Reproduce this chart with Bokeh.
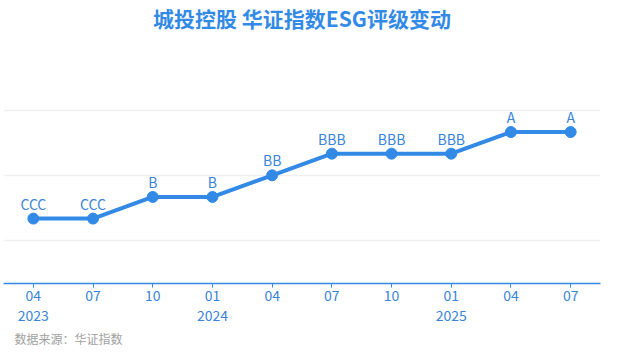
from bokeh.plotting import figure
from bokeh.models import (ColumnDataSource, FactorRange, Range1d, FixedTicker,
                          Title, CustomJSTickFormatter)
from bokeh.core.properties import value
from bokeh.embed import file_html
from bokeh.resources import INLINE

# ---- data ----
dates = ["2023-04", "2023-07", "2023-10", "2024-01", "2024-04",
         "2024-07", "2024-10", "2025-01", "2025-04", "2025-07"]
tick_labels = ["04\n2023", "07", "10", "01\n2024", "04",
               "07", "10", "01\n2025", "04", "07"]
ratings = ["CCC", "CCC", "B", "B", "BB", "BBB", "BBB", "BBB", "A", "A"]
rating_scale = ["C", "CC", "CCC", "B", "BB", "BBB", "A", "AA", "AAA"]
grid_levels = [2, 5, 8]

title_text = "城投控股 华证指数ESG评级变动"
source_text = "数据来源：华证指数"

BLUE = "#338ae6"
TXT_BLUE = "#3a84d8"
FONT = "Noto Sans CJK SC"

levels = [rating_scale.index(r) + 1 for r in ratings]
src = ColumnDataSource(dict(x=dates, y=levels, label=ratings))

p = figure(width=602, height=346, output_backend="svg", toolbar_location=None,
           x_range=FactorRange(*dates, range_padding=0),
           y_range=Range1d(0, 11.6),
           min_border_left=3, min_border_right=2, min_border_top=0,
           min_border_bottom=0)

p.title.text = title_text
p.title.align = "center"
p.title.text_font = FONT
p.title.text_font_size = "21px"
p.title.text_font_style = "bold"
p.title.text_color = BLUE
p.title.standoff = 0

p.outline_line_color = None
p.background_fill_color = "white"
p.border_fill_color = "white"

p.line("x", "y", source=src, line_color=BLUE, line_width=4)
p.scatter("x", "y", source=src, size=11, fill_color=BLUE, line_color=BLUE)
p.text("x", "y", text="label", source=src, text_align="center",
       text_baseline="middle", y_offset=-15, text_font=value(FONT),
       text_font_size="14px", text_color=TXT_BLUE)

p.yaxis.visible = False
p.ygrid.ticker = FixedTicker(ticks=grid_levels)
p.ygrid.grid_line_color = "#f0f0f0"
p.ygrid.grid_line_width = 1.5
p.xgrid.grid_line_color = None

ax = p.xaxis[0]
ax.formatter = CustomJSTickFormatter(args=dict(labels=dict(zip(dates, tick_labels))),
                                     code="return labels.get ? (labels.get(tick) ?? tick) : (labels[tick] ?? tick);")
ax.axis_line_color = BLUE
ax.axis_line_width = 1.5
ax.major_tick_line_color = BLUE
ax.major_tick_in = 0
ax.major_tick_out = 4
ax.minor_tick_line_color = None
ax.major_label_text_color = TXT_BLUE
ax.major_label_text_font = FONT
ax.major_label_text_font_size = "14px"
ax.major_label_text_line_height = 1.0
ax.major_label_standoff = -3

src_title = Title(text=source_text, align="left", text_font=FONT,
                  text_font_size="12px", text_font_style="normal",
                  text_color="#a0a0a0", offset=11, standoff=0)
p.add_layout(src_title, "below")

open("out.html", "w").write(file_html(p, INLINE))
